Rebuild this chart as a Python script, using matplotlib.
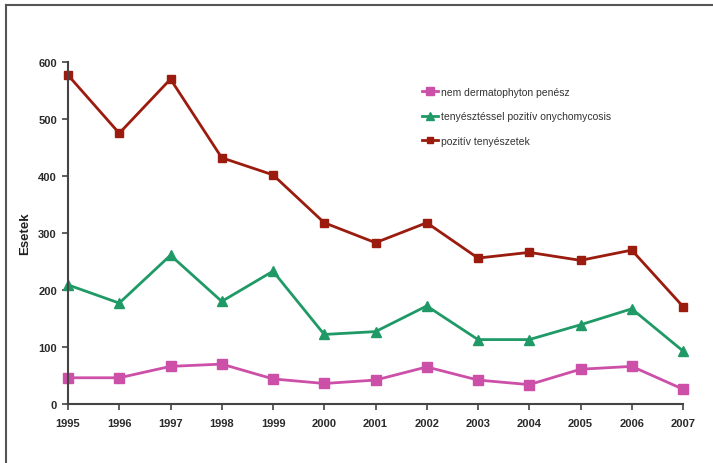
import matplotlib
matplotlib.use("Agg")
import matplotlib.pyplot as plt
from matplotlib.lines import Line2D

years = [1995, 1996, 1997, 1998, 1999, 2000, 2001, 2002, 2003, 2004, 2005, 2006, 2007]
pozitiv = [577, 475, 570, 432, 402, 318, 283, 318, 256, 266, 252, 270, 171]
onychomycosis = [209, 177, 261, 180, 233, 122, 127, 172, 113, 113, 139, 167, 93]
penesz = [46, 46, 66, 70, 44, 36, 42, 65, 42, 34, 61, 66, 26]
labels = ["nem dermatophyton penész", "tenyésztéssel pozitív onychomycosis", "pozitív tenyészetek"]
yticks = [0, 100, 200, 300, 400, 500, 600]

plt.rcParams['font.family'] = ['Liberation Sans', 'DejaVu Sans']

fig = plt.figure(figsize=(7.13, 4.64), dpi=100)
ax = fig.add_axes([68/713, 59/464, (683-68)/713, (405-63)/464])

c_pink = '#cc4fa8'
c_green = '#1f9a66'
c_red = '#9b1b0e'

ax.plot(years, penesz, color=c_pink, marker='s', markersize=7, lw=2, label=labels[0])
ax.plot(years, onychomycosis, color=c_green, marker='^', markersize=7.5, lw=2, label=labels[1])
ax.plot(years, pozitiv, color=c_red, marker='s', markersize=6, lw=2, label=labels[2])

for s in ['top', 'right']:
    ax.spines[s].set_visible(False)
for s in ['left', 'bottom']:
    ax.spines[s].set_color('#444444')
    ax.spines[s].set_linewidth(1.5)

ax.set_xlim(1995, 2007)
ax.set_ylim(0, 600)
ax.set_xticks(years)
ax.set_xticklabels([str(y) for y in years], fontsize=8, fontweight='bold', color='#2a2a2a')
ax.set_yticks(yticks)
ax.set_yticklabels([str(v) for v in yticks], fontsize=8, fontweight='bold', color='#2a2a2a')
ax.tick_params(direction='out', length=4, width=1.2, color='#444444', pad=4)
ax.tick_params(axis='x', pad=6)
ax.set_ylabel('Esetek', fontsize=9.5, fontweight='bold', color='#222222', labelpad=5)
for l in ax.lines:
    l.set_clip_on(False)

leg = ax.legend(loc='upper left', bbox_to_anchor=(0.56, 0.955), frameon=False,
                fontsize=7.5, labelspacing=1.4, handlelength=1.6, handletextpad=0.2,
                markerscale=0.8)
for t in leg.get_texts():
    t.set_color('#333333')

# outer frame lines (top and left)
fig.add_artist(Line2D([6/713, 1], [1 - 6/464, 1 - 6/464], transform=fig.transFigure,
                      color='#555555', lw=1.5))
fig.add_artist(Line2D([6/713, 6/713], [0, 1 - 6/464], transform=fig.transFigure,
                      color='#555555', lw=1.5))

fig.savefig('out.png', dpi=100)
